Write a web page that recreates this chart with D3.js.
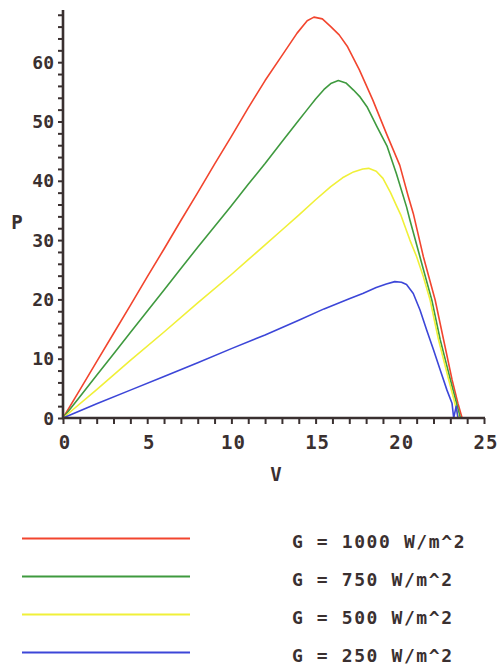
<!DOCTYPE html>
<html><head><meta charset="utf-8">
<script src="https://cdn.jsdelivr.net/npm/d3@7"></script>
<style>
html,body{margin:0;padding:0;background:#fff;}
svg{display:block;}
text{font-family:"DejaVu Sans Mono","Liberation Mono",monospace;font-weight:bold;fill:#3a3030;}
</style></head>
<body>
<script>
// ---- data ----
const seriesNames = ["G = 1000 W/m^2", "G = 750 W/m^2", "G = 500 W/m^2", "G = 250 W/m^2"];
const seriesColors = ["#f2452e", "#3f9a3f", "#f0f038", "#3c46d8"];

const redV = [0,1,2,3,4,5,6,7,8,9,10,11,12,13,13.9,14.5,14.9,15.4,15.9,16.4,16.9,17.6,18.4,19.2,20.0,20.5,20.8,21.4,22.1,22.6,23.1,23.45,23.7];
const redP = [0,4.75,9.5,14.25,19.0,23.8,28.5,33.3,38.0,42.8,47.5,52.3,56.9,61.1,64.9,67.0,67.6,67.3,66.0,64.6,62.6,58.7,53.6,48.0,42.6,37.4,34.5,27.2,19.9,13.2,6.5,2.5,0];

const greenV = [0,1,2,3,4,5,6,7,8,9,10,11,12,13,14,14.5,15.0,15.5,15.9,16.35,16.8,17.25,17.65,18.05,18.65,19.25,19.8,20.4,20.6,21.3,21.9,22.4,23.0,23.6];
const greenP = [0,3.6,7.2,10.8,14.4,18.0,21.6,25.2,28.8,32.3,35.8,39.4,42.9,46.6,50.2,52.0,53.8,55.4,56.4,56.9,56.5,55.3,54.1,52.5,49.1,45.8,41.2,35.6,33.4,26.1,19.9,13.2,6.5,0];

const yellowV = [0,2,4,6,8,10,11,12,13,14,15,15.9,16.6,17.25,17.8,18.15,18.6,19.0,19.45,19.8,20.05,20.6,21.0,21.4,21.8,22.3,22.9,23.5];
const yellowP = [0,4.8,9.7,14.5,19.4,24.2,26.7,29.2,31.7,34.2,36.8,39.0,40.5,41.5,42.0,42.1,41.6,40.4,38.0,35.8,34.3,30.0,27.2,23.8,19.9,13.2,6.5,0];

const blueV = [0,2,4,6,8,10,12,14,15.5,17,17.8,18.6,19.2,19.7,20.1,20.4,20.8,21.2,21.6,22.0,22.4,22.8,23.1,23.2,23.35,23.45];
const blueP = [0,2.4,4.7,7.0,9.3,11.7,14.0,16.5,18.4,20.1,21.0,22.0,22.6,23.0,22.9,22.5,21.0,18.2,14.8,11.5,8.1,4.7,2.5,0,2.0,0];

const xTickLabels = [0,5,10,15,20,25];
const yTickLabels = [0,10,20,30,40,50,60];
const xLabel = "V", yLabel = "P";

const series = [[redV,redP],[greenV,greenP],[yellowV,yellowP],[blueV,blueP]];

// ---- drawing ----
const W = 498, H = 669;
const svg = d3.select("body").append("svg").attr("width",W).attr("height",H);
const x = d3.scaleLinear().domain([0,25]).range([63,484]);
const y = d3.scaleLinear().domain([0,68.8]).range([418,10]);
const axisColor = "#3a3030";

// curves
const line = d3.line().x(d=>x(d[0])).y(d=>y(d[1]));
series.forEach((s,i)=>{
  const pts = s[0].map((v,k)=>[v, s[1][k]]);
  svg.append("path").attr("d",line(pts)).attr("fill","none")
    .attr("stroke",seriesColors[i]).attr("stroke-width",1.6).attr("stroke-linejoin","round");
});

// y axis
const yAxis = d3.axisLeft(y).tickValues(d3.range(0,69,2)).tickSize(5).tickFormat("");
const gy = svg.append("g").attr("transform",`translate(${x(0)},0)`).call(yAxis);
gy.select(".domain").remove();
gy.selectAll(".tick line").attr("stroke",axisColor).attr("stroke-width",2);
svg.append("line").attr("x1",x(0)).attr("x2",x(0)).attr("y1",y(68.8)).attr("y2",y(0)+1)
  .attr("stroke",axisColor).attr("stroke-width",2.6);
svg.selectAll(".ylab").data(yTickLabels).enter().append("text")
  .attr("x",54).attr("y",d=>y(d)+6.5).attr("text-anchor","end")
  .style("font-size","18px").text(d=>d);

// x axis
const xAxis = d3.axisBottom(x).tickValues(d3.range(0,26,1)).tickSize(6).tickFormat("");
const gx = svg.append("g").attr("transform",`translate(0,${y(0)})`).call(xAxis);
gx.select(".domain").remove();
gx.selectAll(".tick line").attr("stroke",axisColor).attr("stroke-width",2);
svg.append("line").attr("x1",x(0)-1).attr("x2",x(25)+1).attr("y1",y(0)).attr("y2",y(0))
  .attr("stroke",axisColor).attr("stroke-width",2.6);
svg.selectAll(".xlab").data(xTickLabels).enter().append("text")
  .attr("x",d=>x(d)+2).attr("y",449).attr("text-anchor","middle")
  .style("font-size","19px").style("letter-spacing","1px").text(d=>d);

// axis titles
svg.append("text").attr("x",17).attr("y",229).attr("text-anchor","middle").style("font-size","19px").text(yLabel);
svg.append("text").attr("x",276).attr("y",481).attr("text-anchor","middle").style("font-size","19px").text(xLabel);

// legend
const legY = [538.5, 576.5, 614.5, 652.5];
seriesNames.forEach((n,i)=>{
  svg.append("line").attr("x1",22).attr("x2",190).attr("y1",legY[i]).attr("y2",legY[i])
    .attr("stroke",seriesColors[i]).attr("stroke-width",2);
  svg.append("text").attr("x",292).attr("y",legY[i]+9).style("font-size","18px")
    .style("letter-spacing","1.6px").text(n);
});
</script>
</body></html>
